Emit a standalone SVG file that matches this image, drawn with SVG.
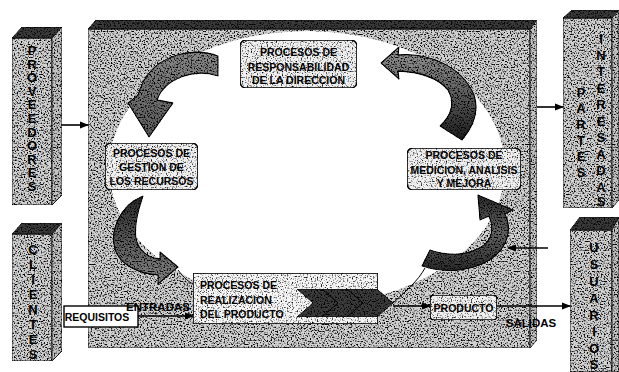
<svg xmlns="http://www.w3.org/2000/svg" width="619" height="372" viewBox="0 0 619 372">
<defs>
  <filter id="grain" x="0%" y="0%" width="100%" height="100%" color-interpolation-filters="sRGB">
    <feTurbulence type="fractalNoise" baseFrequency="0.7" numOctaves="1" seed="7" result="t"/>
    <feColorMatrix in="t" type="matrix" values="5 0 0 0 -1.55  5 0 0 0 -1.55  5 0 0 0 -1.55  0 0 0 0 1" result="n"/>
    <feBlend in="SourceGraphic" in2="n" mode="multiply" result="b"/>
    <feComposite in="b" in2="SourceAlpha" operator="in"/>
  </filter>
  <filter id="grainLight" x="0%" y="0%" width="100%" height="100%" color-interpolation-filters="sRGB">
    <feTurbulence type="fractalNoise" baseFrequency="0.8" numOctaves="1" seed="3" result="t"/>
    <feColorMatrix in="t" type="matrix" values="4 0 0 0 -0.9  4 0 0 0 -0.9  4 0 0 0 -0.9  0 0 0 0 1" result="n"/>
    <feBlend in="SourceGraphic" in2="n" mode="multiply" result="b"/>
    <feComposite in="b" in2="SourceAlpha" operator="in"/>
  </filter>
  <marker id="ah" markerWidth="9" markerHeight="8" refX="8" refY="4" orient="auto" markerUnits="userSpaceOnUse">
    <path d="M0,0.5 L9,4 L0,7.5 Z" fill="#000"/>
  </marker>
  <linearGradient id="gA" x1="0" y1="0" x2="0" y2="1">
    <stop offset="0" stop-color="#8a8a8a"/><stop offset="1" stop-color="#5a5a5a"/>
  </linearGradient>
  <linearGradient id="gB" x1="0" y1="0" x2="0" y2="1">
    <stop offset="0" stop-color="#2a2a2a"/><stop offset="0.45" stop-color="#555"/><stop offset="1" stop-color="#8a8a8a"/>
  </linearGradient>
  <linearGradient id="gC" x1="0" y1="0" x2="0" y2="1">
    <stop offset="0" stop-color="#9a9a9a"/><stop offset="0.45" stop-color="#666"/><stop offset="1" stop-color="#1e1e1e"/>
  </linearGradient>
  <linearGradient id="gD" x1="0" y1="0" x2="0" y2="1">
    <stop offset="0" stop-color="#2a2a2a"/><stop offset="0.5" stop-color="#666"/><stop offset="1" stop-color="#2a2a2a"/>
  </linearGradient>
</defs>
<style>
  .t{font-family:"Liberation Sans",Arial,sans-serif;font-weight:bold;fill:#000}
  .bt{font-size:10.5px;text-anchor:middle}
  .col{font-size:13px;text-anchor:middle}
  .box{fill:#f0f0f0;stroke:#000;stroke-width:1.6}
  .face{fill:#d2d2d2;stroke:#222;stroke-width:1}
  .side{fill:#c4c4c4;stroke:#222;stroke-width:1}
  .top{fill:#3a3a3a;stroke:#111;stroke-width:1}
  .link{stroke:#000;stroke-width:1.6;fill:none;marker-end:url(#ah)}
  .rib{stroke:#000;stroke-width:1.3;stroke-linejoin:round}
  .chev{fill:#3c3c3c;stroke:#000;stroke-width:1}
</style>
<rect x="0" y="0" width="619" height="372" fill="#fff"/>

<g id="panel">
  <g filter="url(#grain)">
    <polygon class="face" points="88,29 530,29 530,348 88,348"/>
    <polygon class="top" points="88,29 96,20 537,20 530,29"/>
    <polygon class="side" points="530,29 537,20 537,340 530,348"/>
  </g>
  <ellipse cx="307" cy="168" rx="198" ry="137" fill="#fff"/>
</g>

<g id="node-proveedores">
  <g filter="url(#grain)">
    <polygon class="face" points="12,38 52,38 52,205 12,205"/>
    <polygon class="top" points="12,38 22,27 62,27 52,38"/>
    <polygon class="side" points="52,38 62,27 62,195 52,205"/>
  </g>
  <text class="t col"><tspan x="32" y="55">P</tspan><tspan x="32" y="68.6">R</tspan><tspan x="32" y="82.2">O</tspan><tspan x="32" y="95.8">V</tspan><tspan x="32" y="109.4">E</tspan><tspan x="32" y="123">E</tspan><tspan x="32" y="136.6">D</tspan><tspan x="32" y="150.2">O</tspan><tspan x="32" y="163.8">R</tspan><tspan x="32" y="177.4">E</tspan><tspan x="32" y="191">S</tspan></text>
</g>

<g id="node-clientes">
  <g filter="url(#grain)">
    <polygon class="face" points="12,234 52,234 52,361 12,361"/>
    <polygon class="top" points="12,234 22,223 62,223 52,234"/>
    <polygon class="side" points="52,234 62,223 62,351 52,361"/>
  </g>
  <text class="t col"><tspan x="33" y="254">C</tspan><tspan x="33" y="269">L</tspan><tspan x="33" y="284">I</tspan><tspan x="33" y="299">E</tspan><tspan x="33" y="314">N</tspan><tspan x="33" y="329">T</tspan><tspan x="33" y="344">E</tspan><tspan x="33" y="359">S</tspan></text>
</g>

<g id="node-partes-interesadas">
  <g filter="url(#grain)">
    <polygon class="face" points="563,18 612,18 612,208 563,208"/>
    <polygon class="top" points="563,18 572,10 619,10 612,18"/>
    <polygon class="side" points="612,18 619,10 619,200 612,208"/>
  </g>
  <text class="t col"><tspan x="581" y="97">P</tspan><tspan x="581" y="113">A</tspan><tspan x="581" y="129">R</tspan><tspan x="581" y="145">T</tspan><tspan x="581" y="161">E</tspan><tspan x="581" y="177">S</tspan></text>
  <text class="t col"><tspan x="601" y="43">I</tspan><tspan x="601" y="59.5">N</tspan><tspan x="601" y="76">T</tspan><tspan x="601" y="92.5">E</tspan><tspan x="601" y="109">R</tspan><tspan x="601" y="125.5">E</tspan><tspan x="601" y="142">S</tspan><tspan x="601" y="158.5">A</tspan><tspan x="601" y="175">D</tspan><tspan x="601" y="191.5">A</tspan><tspan x="601" y="206">S</tspan></text>
</g>

<g id="node-usuarios">
  <g filter="url(#grain)">
    <polygon class="face" points="570,230 612,230 612,372 570,372"/>
    <polygon class="top" points="570,230 580,217 619,217 612,230"/>
    <polygon class="side" points="612,230 619,217 619,372 612,372"/>
  </g>
  <text class="t col"><tspan x="594" y="252">U</tspan><tspan x="594" y="269">S</tspan><tspan x="594" y="286">U</tspan><tspan x="594" y="303">A</tspan><tspan x="594" y="320">R</tspan><tspan x="594" y="336">I</tspan><tspan x="594" y="353">O</tspan><tspan x="594" y="369">S</tspan></text>
</g>

<g id="node-requisitos">
  <rect x="64" y="306" width="74" height="21" fill="#fff" stroke="#000" stroke-width="1.4"/>
  <text class="t bt" x="97" y="320.5">REQUISITOS</text>
</g>

<g id="connectors">
  <g filter="url(#grain)">
    <path id="arrow-direccion-gestion" class="rib" fill="url(#gA)" d="M218,56 C195,47 150,52 138,95 L128,103 L149,137 L173,103 L157,100 C165,78 195,68 218,76 Z"/>
    <path id="arrow-gestion-realizacion" class="rib" fill="url(#gB)" d="M143,196 C120,205 108,232 116,252 C122,266 140,274 158,275 L158,284 L178,267 L160,252 L160,259 C148,258 138,250 136,238 C134,224 138,210 143,196 Z"/>
    <path id="arrow-medicion-direccion" class="rib" fill="url(#gC)" d="M398,55 C428,52 462,66 474,95 C480,112 472,128 462,140 L440,126 C452,115 455,102 448,90 C438,78 420,72 398,71 L399,79 L381,63 L399,47 Z"/>
    <path id="arrow-realizacion-medicion" class="rib" fill="url(#gD)" d="M422,266 C450,275 478,270 495,256 C508,245 512,228 505,214 L513,210 L478,195 L480,220 L489,216 C494,228 492,238 484,245 C470,255 450,257 430,250 Z"/>
  </g>
  <path d="M178,270 C184,278 189,282 193,284" fill="none" stroke="#000" stroke-width="1"/>
  <path d="M393,303 C405,292 418,281 425,268" fill="none" stroke="#000" stroke-width="1"/>
  <line class="link" x1="62" y1="125" x2="88" y2="125"/>
  <line class="link" x1="537" y1="107" x2="563" y2="107"/>
  <line class="link" x1="548" y1="248" x2="508" y2="248"/>
  <line class="link" x1="138" y1="316" x2="193" y2="316"/>
  <line class="link" x1="393" y1="306" x2="430" y2="306"/>
  <line class="link" x1="497" y1="306" x2="570" y2="306"/>
  <text class="t" x="158" y="311" font-size="11.5" text-anchor="middle">ENTRADAS</text>
  <text class="t" x="531" y="327" font-size="11.5" text-anchor="middle">SALIDAS</text>
</g>

<g id="node-responsabilidad">
  <rect class="box" x="240" y="40" width="117" height="48" rx="6" filter="url(#grainLight)"/>
  <text class="t bt" x="298.5" y="56">PROCESOS DE</text>
  <text class="t bt" x="298.5" y="70.5">RESPONSABILIDAD</text>
  <text class="t bt" x="298.5" y="84">DE LA DIRECCION</text>
</g>

<g id="node-gestion">
  <rect class="box" x="105" y="143" width="93" height="47" rx="6" filter="url(#grainLight)"/>
  <text class="t bt" x="151.5" y="157">PROCESOS DE</text>
  <text class="t bt" x="151.5" y="171">GESTION DE</text>
  <text class="t bt" x="151.5" y="184.5">LOS RECURSOS</text>
</g>

<g id="node-medicion">
  <rect class="box" x="407" y="148" width="114" height="42" rx="6" filter="url(#grainLight)"/>
  <text class="t bt" x="464" y="159">PROCESOS DE</text>
  <text class="t bt" x="464" y="173.5">MEDICION, ANALISIS</text>
  <text class="t bt" x="464" y="187">Y MEJORA</text>
</g>

<g id="node-realizacion">
  <rect x="193" y="273" width="185" height="51" fill="#f6f6f6" stroke="#000" stroke-width="1.6" filter="url(#grainLight)"/>
  <g filter="url(#grain)">
    <polygon class="chev" points="297,289 327,289 343,303 327,317 297,317 313,303"/>
    <polygon class="chev" points="322,289 352,289 368,303 352,317 322,317 338,303"/>
    <polygon class="chev" points="347,289 377,289 393,303 377,317 347,317 363,303"/>
  </g>
  <text class="t" x="200" y="289" font-size="10.5">PROCESOS DE</text>
  <text class="t" x="200" y="304" font-size="10.5">REALIZACION</text>
  <text class="t" x="200" y="318" font-size="10.5">DEL PRODUCTO</text>
</g>

<g id="node-producto">
  <rect class="box" x="430" y="295" width="67" height="25" rx="4" filter="url(#grainLight)"/>
  <text class="t bt" x="463.5" y="311.5">PRODUCTO</text>
</g>
</svg>
